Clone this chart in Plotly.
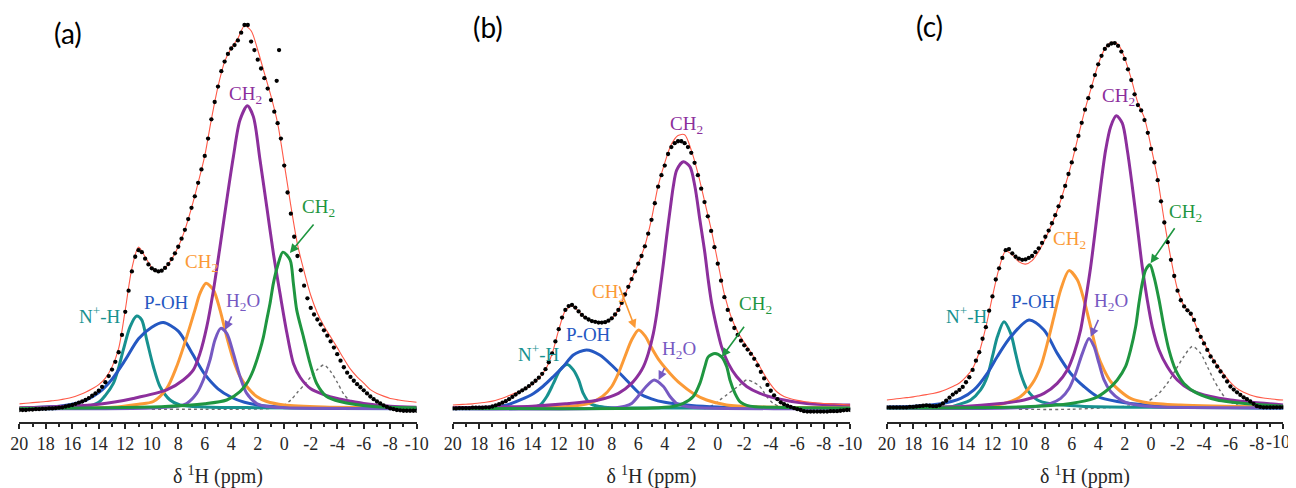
import numpy as np
import plotly.graph_objects as go

# ---------------- shared x grids (ppm) ----------------
PPM_DOTS = np.arange(20, -10.001, -0.25)   # experimental points
PPM_FIT = np.arange(20, -10.001, -0.5)     # fitted envelope

TICK_VALS = [20, 18, 16, 14, 12, 10, 8, 6, 4, 2, 0, -2, -4, -6, -8, -10]
TICK_TEXT = ["20", "18", "16", "14", "12", "10", "8", "6", "4", "2", "0",
             "-2", "-4", "-6", "-8", "-10"]
MINOR_VALS = [19, 17, 15, 13, 11, 9, 7, 5, 3, 1, -1, -3, -5, -7, -9]

# ---------------- panel (a) ----------------
A_DOTS = [0.0, 0.0, 0.0, 0.1, 0.1, 0.2, 0.2, 0.3, 0.3, 0.4, 0.4, 0.5, 0.6, 0.7, 0.9, 1.1,
          1.3, 1.6, 1.9, 2.2, 2.6, 3.1, 3.7, 4.3, 5.0, 6.0, 7.2, 8.8, 10.5, 12.5, 15.0, 19.5,
          25.5, 31.0, 36.0, 39.8, 41.5, 41.0, 39.3, 37.8, 36.8, 36.3, 36.0, 36.2, 36.9, 37.9,
          39.2, 40.7, 42.4, 44.5, 46.8, 49.6, 52.5, 55.5, 59.0, 62.5, 66.0, 70.5, 75.5, 80.0,
          84.0, 88.0, 90.5, 92.5, 93.9, 94.8, 96.0, 98.0, 100.0, 100.0, 95.7, 93.5, 91.0,
          88.7, 86.2, 83.5, 80.5, 77.5, 74.5, 70.5, 63.5, 56.5, 51.0, 45.0, 40.0, 36.3, 32.3,
          29.0, 26.5, 24.8, 23.5, 22.2, 20.7, 19.3, 17.8, 16.2, 14.5, 12.8, 11.1, 9.7, 8.6,
          7.6, 6.7, 5.9, 5.1, 4.3, 3.5, 2.8, 2.2, 1.7, 1.2, 0.8, 0.4, 0.2, 0.0, -0.1, -0.2,
          -0.2, -0.2, -0.2, -0.2]
A_OUTLIER_X = [0.57, 0.39]
A_OUTLIER_Y = [85.5, 93.5]
A_FIT = [1.6, 1.75, 1.9, 2.05, 2.2, 2.4, 2.6, 2.9, 3.3, 3.9, 4.6, 5.5, 6.6, 8.3, 11.2, 16.0,
         26.0, 36.8, 42.3, 39.8, 37.0, 36.0, 36.9, 39.2, 42.4, 46.8, 52.5, 59.0, 66.0, 75.5,
         84.0, 90.5, 94.0, 96.5, 99.8, 98.5, 93.5, 87.5, 81.5, 74.5, 64.0, 53.0, 43.0, 36.0,
         29.8, 25.2, 21.8, 19.0, 16.2, 13.3, 10.6, 8.6, 7.0, 5.3, 4.3, 3.6, 3.0, 2.7, 2.4,
         2.2, 2.0]
A_NH_X = [20, 17, 15, 14, 13.5, 12.9, 12.5, 12.15, 11.64, 11.14, 10.76, 10.38, 9.88, 9.38, 8.62, 7.87, 6, 2, -3, -10]
A_NH_Y = [0.3, 0.4, 0.8, 2.0, 3.8, 6.9, 11.0, 15.6, 21.6, 24.4, 23.4, 18.2, 11.3, 6.1, 2.6, 1.3, 0.8, 0.6, 0.5, 0.4]
A_POH_X = [20, 17, 16, 15, 14, 13, 12, 11, 10, 9.13, 8, 7, 6, 5, 4, 3, 2, 0, -4, -10]
A_POH_Y = [0.6, 1.0, 1.5, 2.5, 4.5, 8.0, 13.0, 18.5, 21.5, 22.7, 20.5, 15.0, 9.3, 5.5, 3.3, 2.0, 1.3, 0.7, 0.4, 0.3]
A_CH2O_X = [20, 13, 11, 9.88, 8.87, 8.12, 7.36, 6.74, 6.36, 5.9, 5.35, 4.85, 4.34, 3.84, 3.34, 2.83, 2.08, 1.32, 0, -3, -10]
A_CH2O_Y = [0.5, 0.7, 1.5, 2.2, 5.6, 11.3, 19.0, 26.0, 30.3, 32.9, 31.2, 26.0, 19.0, 13.0, 8.7, 6.1, 3.5, 2.2, 1.3, 0.8, 0.6]
A_H2O_X = [20, 10, 8, 7.36, 6.61, 6.11, 5.6, 5.23, 4.8, 4.34, 3.84, 3.34, 2.83, 2.08, 1.32, 0, -10]
A_H2O_Y = [0.3, 0.5, 1.0, 1.7, 4.3, 7.8, 13.0, 18.2, 21.2, 19.9, 14.7, 8.7, 4.3, 1.7, 0.9, 0.6, 0.4]
A_CH2P_X = [20, 14, 11.4, 8.87, 7.62, 6.86, 6.36, 5.85, 5.35, 4.85, 4.34, 3.84, 3.34, 2.78, 2.33, 1.83, 1.32, 0.82, 0.32, -0.2, -0.7, -1.2, -2, -3, -4, -5, -6, -8, -10]
A_CH2P_Y = [0.5, 1.5, 3.0, 5.2, 7.8, 10.4, 14.7, 21.6, 31.0, 42.4, 54.5, 65.8, 75.3, 79.0, 76.2, 65.0, 52.8, 40.7, 30.3, 20.0, 12.0, 8.5, 5.5, 4.0, 3.0, 2.3, 1.7, 1.0, 0.7]
A_CH2G_X = [20, 9, 6, 4.34, 3.34, 2.83, 2.33, 1.83, 1.57, 1.32, 1.07, 0.82, 0.52, 0.1, -0.44, -0.69, -0.94, -1.45, -1.95, -2.45, -3.2, -4.2, -6.7, -10]
A_CH2G_Y = [0.4, 0.9, 1.6, 2.6, 4.8, 6.9, 10.4, 15.6, 19.0, 23.4, 27.7, 32.9, 37.2, 41.0, 39.0, 32.9, 26.0, 19.0, 12.1, 6.9, 3.5, 2.2, 0.9, 0.6]
A_DOT_X = [10, 6, 1, 0.5, 0, -0.5, -1, -1.5, -2, -2.5, -3, -3.5, -4, -4.5, -5, -5.5, -6, -7]
A_DOT_Y = [0.2, 0.2, 0.4, 0.8, 1.3, 2.6, 4.6, 6.5, 8.6, 10.5, 11.7, 10.0, 7.2, 4.1, 2.2, 1.2, 0.7, 0.3]

# ---------------- panel (b) ----------------
B_DOTS = [0.4, 0.4, 0.5, 0.5, 0.5, 0.5, 0.6, 0.6, 0.6, 0.6, 0.7, 0.7, 0.9, 1.2, 1.5, 1.9,
          2.3, 2.8, 3.4, 4.0, 4.6, 5.1, 5.6, 6.2, 6.9, 7.6, 8.4, 9.4, 10.6, 12.4, 14.7, 17.8,
          21.0, 24.0, 26.0, 27.0, 27.3, 26.6, 25.6, 24.7, 24.0, 23.5, 23.1, 22.9, 22.7, 22.7,
          22.8, 23.2, 23.8, 24.8, 26.0, 27.8, 30.0, 32.0, 34.0, 36.0, 38.0, 40.0, 42.5, 45.8,
          49.4, 53.7, 58.0, 61.0, 63.5, 66.5, 68.3, 69.3, 69.8, 69.8, 69.3, 68.3, 66.8, 64.2,
          61.0, 57.5, 54.0, 50.3, 46.5, 42.3, 38.0, 33.6, 29.3, 26.0, 23.5, 21.3, 19.5, 18.0,
          16.8, 15.7, 14.6, 13.3, 11.6, 9.9, 8.2, 6.5, 5.0, 3.8, 2.8, 2.0, 1.5, 1.1, 0.8, 0.5,
          0.2, 0.0, -0.3, -0.4, -0.4, -0.4, -0.4, -0.4, -0.4, -0.4, -0.3, -0.3, -0.3, -0.2,
          -0.1, 0.0, 0.0]
B_FIT = [1.3, 1.4, 1.5, 1.6, 1.8, 2.0, 2.3, 2.8, 3.4, 4.1, 4.8, 5.6, 6.7, 8.2, 10.5, 14.6,
         20.8, 25.8, 27.0, 25.6, 24.0, 23.1, 22.7, 22.8, 23.8, 26.0, 30.0, 34.0, 38.0, 42.7,
         49.6, 58.2, 64.2, 69.0, 71.3, 71.5, 67.5, 61.5, 54.3, 47.0, 38.5, 30.0, 24.3, 20.3,
         17.5, 15.0, 12.3, 9.3, 6.6, 4.6, 3.5, 2.9, 2.5, 2.2, 2.0, 1.8, 1.7, 1.6, 1.5, 1.4, 1.3]
B_NH_X = [20, 15, 14, 13.4, 12.9, 12.4, 11.9, 11.35, 10.9, 10.5, 10.15, 9.65, 8.9, 8, 4, -10]
B_NH_Y = [0.3, 0.4, 0.6, 1.3, 3.5, 6.9, 10.4, 11.8, 10.4, 7.8, 4.3, 1.7, 0.9, 0.6, 0.5, 0.4]
B_POH_X = [20, 17.2, 15.9, 14.9, 13.9, 13.2, 12.4, 11.65, 10.9, 9.9, 8.9, 7.9, 6.9, 5.9, 5, 4, 2, 0, -4, -10]
B_POH_Y = [0.5, 0.7, 1.3, 2.6, 4.3, 6.1, 8.7, 11.3, 14.3, 15.6, 14.3, 11.3, 7.8, 4.3, 2.9, 2.0, 1.2, 0.8, 0.5, 0.4]
B_CH2O_X = [20, 11, 9.7, 8.7, 8, 7.5, 7, 6.5, 5.97, 5.5, 5, 4.4, 3.6, 2.85, 1.85, 0.84, -0.67, -3, -10]
B_CH2O_Y = [0.5, 1.0, 1.7, 3.5, 6.1, 9.5, 13.9, 18.2, 20.8, 19.3, 16.2, 12.8, 9.5, 6.9, 4.3, 2.6, 1.3, 0.8, 0.6]
B_H2O_X = [20, 8, 7, 6.5, 5.9, 5.4, 4.8, 4.1, 3.6, 3.1, 2.35, 1, -10]
B_H2O_Y = [0.3, 0.5, 1.0, 1.7, 4.0, 6.1, 7.8, 6.1, 3.5, 1.7, 0.9, 0.5, 0.4]
B_CH2P_X = [20, 14, 11.5, 9, 7.5, 6.5, 5.9, 5.6, 5.24, 4.86, 4.6, 4.36, 4.1, 3.86, 3.6, 3.36, 3.1, 2.6, 2.1, 1.72, 1.35, 0.97, 0.72, 0.46, 0.09, -0.29, -0.79, -1.42, -2.18, -3.18, -4.7, -6.7, -10]
B_CH2P_Y = [0.6, 1.0, 1.6, 2.6, 4.3, 6.9, 9.5, 11.3, 14.7, 19.9, 25.1, 31.2, 38.1, 45.0, 51.9, 58.0, 62.3, 64.5, 63.2, 58.0, 49.4, 40.7, 33.8, 27.7, 21.6, 16.4, 12.1, 8.7, 6.1, 4.3, 2.8, 1.7, 1.3]
B_CH2G_X = [20, 5, 3.4, 2.6, 1.85, 1.35, 0.97, 0.72, 0.21, -0.29, -0.67, -0.92, -1.3, -1.67, -2.43, -4.2, -10]
B_CH2G_Y = [0.4, 0.5, 0.9, 1.7, 3.5, 6.9, 11.3, 13.8, 14.7, 13.8, 11.3, 7.8, 4.3, 2.2, 1.0, 0.7, 0.5]
B_DOT_X = [1, 0.34, -0.16, -0.7, -1.17, -1.7, -2.18, -2.7, -3.18, -3.69, -4.18, -4.7, -5.2]
B_DOT_Y = [0.3, 1.3, 2.6, 4.0, 5.2, 6.6, 7.8, 7.2, 6.1, 3.5, 1.7, 0.8, 0.3]

# ---------------- panel (c) ----------------
C_DOTS = [0.7, 0.7, 0.7, 0.7, 0.7, 0.7, 0.7, 0.8, 0.8, 0.9, 1.0, 1.1, 1.2, 1.1, 1.0, 1.0,
          1.2, 1.7, 2.4, 3.2, 4.0, 4.6, 5.2, 6.0, 7.2, 8.5, 10.4, 12.8, 15.0, 18.5, 21.5, 25.8,
          29.5, 33.9, 36.8, 39.5, 41.5, 41.8, 40.7, 39.8, 39.3, 39.0, 39.1, 39.5, 40.0, 41.0,
          42.0, 43.4, 45.0, 46.6, 48.5, 50.6, 52.9, 55.3, 58.2, 61.3, 64.3, 67.7, 71.2, 74.6,
          78.0, 81.0, 84.0, 87.0, 89.8, 92.0, 93.8, 94.7, 95.2, 95.3, 94.6, 93.1, 91.2, 88.5,
          85.7, 82.0, 79.2, 77.8, 75.3, 72.0, 67.8, 64.3, 59.7, 54.2, 48.7, 43.6, 39.0, 34.8,
          31.0, 28.5, 26.9, 25.9, 25.0, 23.4, 20.8, 19.0, 17.3, 15.6, 13.9, 12.6, 11.3, 10.0,
          8.7, 7.4, 6.1, 5.3, 4.6, 3.9, 3.3, 2.8, 2.2, 1.6, 1.0, 0.8, 0.7, 0.7, 0.7, 0.7, 0.7,
          0.7, 0.7]
C_FIT = [2.6, 2.8, 3.0, 3.2, 3.4, 3.7, 4.0, 4.3, 4.7, 5.3, 6.1, 7.0, 8.6, 10.8, 15.0, 21.5,
         29.5, 36.8, 41.3, 40.3, 38.5, 37.9, 38.8, 41.2, 44.5, 48.3, 52.8, 58.2, 64.3, 71.2,
         78.0, 84.0, 89.8, 93.8, 95.5, 95.0, 91.4, 86.0, 79.8, 75.8, 68.3, 60.0, 49.0, 39.3,
         31.3, 27.0, 25.0, 21.0, 17.5, 14.2, 11.6, 9.3, 7.2, 5.6, 4.6, 3.9, 3.4, 3.1, 2.9,
         2.7, 2.6]
C_NH_X = [20, 15, 14.65, 13.65, 12.9, 12.39, 12.0, 11.63, 11.13, 10.62, 10.25, 9.87, 9.36, 8.6, 7.6, 5.3, 0, -10]
C_NH_Y = [0.4, 0.9, 1.3, 2.6, 5.2, 8.7, 13.9, 19.0, 22.9, 19.9, 14.7, 9.5, 5.2, 2.6, 1.6, 1.0, 0.7, 0.5]
C_POH_X = [20, 17.9, 15.9, 14.4, 13.4, 12.39, 11.63, 10.62, 9.24, 8.1, 7.1, 6.08, 5.08, 4.07, 2.56, 0.29, -5, -10]
C_POH_Y = [0.8, 1.0, 1.6, 3.0, 5.2, 9.5, 13.9, 19.0, 23.4, 20.8, 14.7, 9.5, 6.1, 3.5, 2.2, 1.3, 0.7, 0.5]
C_CH2O_X = [20, 12.9, 11.13, 9.87, 8.98, 8.35, 7.85, 7.35, 6.84, 6.21, 5.58, 5.08, 4.57, 4.07, 3.56, 3.06, 2.3, 1.55, 0.29, -2.23, -10]
C_CH2O_Y = [0.6, 1.0, 1.7, 3.5, 6.9, 11.3, 17.3, 24.2, 31.2, 36.2, 33.8, 28.6, 21.6, 14.7, 10.4, 7.4, 4.8, 3.0, 1.9, 1.3, 0.7]
C_H2O_X = [20, 9, 7.6, 6.84, 6.21, 5.71, 5.2, 4.7, 4.32, 3.94, 3.56, 3.06, 2.3, 1.55, 0, -10]
C_H2O_Y = [0.4, 0.8, 1.7, 3.0, 5.6, 9.5, 14.7, 18.6, 16.5, 12.1, 7.8, 4.8, 2.6, 1.6, 0.9, 0.6]
C_CH2P_X = [20, 14.2, 11.6, 9.6, 8.1, 7.1, 6.34, 5.83, 5.33, 4.95, 4.57, 4.19, 3.82, 3.44, 3.06, 2.63, 2.18, 1.8, 1.42, 1.04, 0.67, 0.29, -0.09, -0.6, -1.22, -1.98, -2.99, -4.5, -6, -10]
C_CH2P_Y = [0.6, 0.9, 1.6, 2.6, 4.3, 6.9, 10.4, 14.7, 20.8, 28.6, 37.2, 47.6, 58.0, 67.5, 73.6, 76.4, 74.5, 67.5, 58.0, 47.6, 37.2, 28.6, 21.6, 15.6, 11.3, 7.8, 5.2, 3.5, 2.6, 1.3]
C_CH2G_X = [20, 9.1, 6.08, 4.32, 3.31, 2.56, 1.93, 1.55, 1.17, 0.92, 0.67, 0.41, 0.09, -0.22, -0.6, -0.97, -1.35, -1.85, -2.48, -3.5, -5, -7.3, -10]
C_CH2G_Y = [0.5, 0.9, 1.7, 3.0, 5.2, 7.8, 11.3, 15.6, 21.6, 27.7, 32.9, 36.4, 37.7, 34.6, 28.6, 21.6, 15.6, 10.4, 6.9, 4.3, 2.6, 1.6, 1.0]
C_DOT_X = [10, 6, 1.04, 0.29, -0.47, -1.22, -1.85, -2.48, -3.12, -3.75, -4.25, -4.75, -5.26, -5.76, -6.5, -7]
C_DOT_Y = [0.2, 0.2, 1.3, 2.2, 3.9, 6.9, 10.4, 13.9, 16.5, 14.7, 11.3, 7.8, 4.8, 2.6, 1.3, 0.6]

# ---------------- styles ----------------
COL_NH = "#17918f"
COL_POH = "#2558c2"
COL_CH2O = "#fb9a36"
COL_H2O = "#7659c2"
COL_CH2P = "#8c2f9c"
COL_CH2G = "#1f9640"
COL_FIT = "#ff5a48"
COL_DOTTED = "#6e6e6e"
AX_COL = "#262626"
SERIF = "Liberation Serif"

# page body has an 8px margin -> figure is offset by 8px
OFF = 8
FIG_W, FIG_H = 1296 - OFF, 488 - OFF
PLOT_TOP, PLOT_BOT = 15 - OFF, 422 - OFF
PLOT_H = PLOT_BOT - PLOT_TOP
LAST_LABEL_CENTER = 1278   # page x of the last tick label of panel (c), kept in view

panels = [
    dict(ax="", dots=A_DOTS, fit=A_FIT, out=(A_OUTLIER_X, A_OUTLIER_Y),
         comps=[(A_DOT_X, A_DOT_Y, COL_DOTTED, "dot"), (A_NH_X, A_NH_Y, COL_NH, None),
                (A_POH_X, A_POH_Y, COL_POH, None), (A_CH2O_X, A_CH2O_Y, COL_CH2O, None),
                (A_H2O_X, A_H2O_Y, COL_H2O, None), (A_CH2P_X, A_CH2P_Y, COL_CH2P, None),
                (A_CH2G_X, A_CH2G_Y, COL_CH2G, None)]),
    dict(ax="2", dots=B_DOTS, fit=B_FIT, out=None,
         comps=[(B_DOT_X, B_DOT_Y, COL_DOTTED, "dot"), (B_NH_X, B_NH_Y, COL_NH, None),
                (B_POH_X, B_POH_Y, COL_POH, None), (B_CH2O_X, B_CH2O_Y, COL_CH2O, None),
                (B_H2O_X, B_H2O_Y, COL_H2O, None), (B_CH2P_X, B_CH2P_Y, COL_CH2P, None),
                (B_CH2G_X, B_CH2G_Y, COL_CH2G, None)]),
    dict(ax="3", dots=C_DOTS, fit=C_FIT, out=None,
         comps=[(C_DOT_X, C_DOT_Y, COL_DOTTED, "dot"), (C_NH_X, C_NH_Y, COL_NH, None),
                (C_POH_X, C_POH_Y, COL_POH, None), (C_CH2O_X, C_CH2O_Y, COL_CH2O, None),
                (C_H2O_X, C_H2O_Y, COL_H2O, None), (C_CH2P_X, C_CH2P_Y, COL_CH2P, None),
                (C_CH2G_X, C_CH2G_Y, COL_CH2G, None)]),
]

fig = go.Figure()
for p in panels:
    xa, ya = "x" + p["ax"], "y" + p["ax"]
    for cx, cy, col, dash in p["comps"]:
        if dash == "dot":
            fig.add_trace(go.Scatter(x=cx, y=cy, mode="lines", xaxis=xa, yaxis=ya,
                                     line=dict(color=col, width=1.4, dash="dot",
                                               shape="spline", smoothing=0.8)))
        else:
            fig.add_trace(go.Scatter(x=cx, y=cy, mode="lines", xaxis=xa, yaxis=ya,
                                     line=dict(color=col, width=3,
                                               shape="spline", smoothing=0.8)))
    fig.add_trace(go.Scatter(x=PPM_FIT, y=p["fit"], mode="lines", xaxis=xa, yaxis=ya,
                             line=dict(color=COL_FIT, width=1.1, shape="spline", smoothing=0.8)))
    fig.add_trace(go.Scatter(x=PPM_DOTS, y=p["dots"], mode="markers", xaxis=xa, yaxis=ya,
                             marker=dict(color="black", size=4.3)))
    if p["out"]:
        fig.add_trace(go.Scatter(x=p["out"][0], y=p["out"][1], mode="markers",
                                 xaxis=xa, yaxis=ya, marker=dict(color="black", size=4.3)))

# ---------------- axes ----------------
DOM_PX = [(19.3, 416.7), (452.7, 850.3), (886.7, 1283.3)]
layout_axes = {}
for i, (a, b) in enumerate(DOM_PX):
    suf = "" if i == 0 else str(i + 1)
    ttext = list(TICK_TEXT)
    if i == 2:
        ttext[-1] = ""   # last label of panel (c) drawn as an annotation (kept in view)
    layout_axes["xaxis" + suf] = dict(
        domain=[(a - OFF) / FIG_W, (b - OFF) / FIG_W], range=[20, -10], anchor="y" + suf,
        tickmode="array", tickvals=TICK_VALS, ticktext=ttext,
        ticks="outside", ticklen=5, tickwidth=1.6, tickcolor=AX_COL,
        showline=True, linecolor=AX_COL, linewidth=1.6,
        showgrid=False, zeroline=False, automargin=False, ticklabeloverflow="allow",
        tickfont=dict(family=SERIF, size=18, color=AX_COL),
        minor=dict(tickmode="array", tickvals=MINOR_VALS, ticks="outside",
                   ticklen=3, tickwidth=1.6, tickcolor=AX_COL, showgrid=False),
        title=dict(text="δ <sup>1</sup>H (ppm)", standoff=16,
                   font=dict(family=SERIF, size=20, color=AX_COL)),
    )
    layout_axes["yaxis" + suf] = dict(domain=[0, 1], range=[-3.12, 102.6], visible=False,
                                      anchor="x" + suf, fixedrange=True)

fig.update_layout(width=FIG_W, height=FIG_H,
                  margin=dict(l=0, r=0, t=PLOT_TOP, b=FIG_H - PLOT_BOT),
                  paper_bgcolor="white", plot_bgcolor="white", showlegend=False,
                  **layout_axes)

# ---------------- labels ----------------
LABELS = [
    # (axis suffix, text, x, y, color)
    ("", "CH<sub>2</sub>", 2.96, 81.8, COL_CH2P),
    ("", "CH<sub>2</sub>", -2.56, 52.5, COL_CH2G),
    ("", "CH<sub>2</sub>", 6.21, 38.2, COL_CH2O),
    ("", "H<sub>2</sub>O", 3.1, 28.0, COL_H2O),
    ("", "P-OH", 8.86, 28.0, COL_POH),
    ("", "N<sup>+</sup>-H", 13.9, 24.7, COL_NH),
    ("2", "CH<sub>2</sub>", 2.33, 74.0, COL_CH2P),
    ("2", "CH<sub>2</sub>", 8.23, 30.3, COL_CH2O),
    ("2", "CH<sub>2</sub>", -2.83, 27.3, COL_CH2G),
    ("2", "H<sub>2</sub>O", 2.95, 15.6, COL_H2O),
    ("2", "P-OH", 9.74, 19.5, COL_POH),
    ("2", "N<sup>+</sup>-H", 13.5, 14.7, COL_NH),
    ("3", "CH<sub>2</sub>", 2.43, 81.4, COL_CH2P),
    ("3", "CH<sub>2</sub>", -2.61, 51.1, COL_CH2G),
    ("3", "CH<sub>2</sub>", 6.21, 44.2, COL_CH2O),
    ("3", "H<sub>2</sub>O", 3.06, 28.1, COL_H2O),
    ("3", "P-OH", 8.86, 28.1, COL_POH),
    ("3", "N<sup>+</sup>-H", 13.9, 24.7, COL_NH),
]
ARROWS = [
    # (axis suffix, tail x, tail y, head x, head y, color)
    ("", -2.31, 48.6, -0.43, 40.8, COL_CH2G),
    ("", 3.92, 24.7, 4.47, 20.8, COL_H2O),
    ("2", 7.48, 32.5, 6.22, 21.2, COL_CH2O),
    ("2", -2.07, 22.0, -0.31, 13.8, COL_CH2G),
    ("2", 3.96, 11.3, 4.46, 7.8, COL_H2O),
    ("3", -1.86, 47.6, 0.04, 38.1, COL_CH2G),
    ("3", 3.94, 23.8, 4.57, 19.0, COL_H2O),
]
# panel tags: (text, x px, y px) in reference picture coordinates
PANEL_TAGS = [("(a)", 68, 33), ("(b)", 488, 27), ("(c)", 929, 26)]

annotations = []
for suf, txt, x, y, col in LABELS:
    annotations.append(dict(xref="x" + suf, yref="y" + suf, x=x, y=y, text=txt,
                            xanchor="center", yanchor="middle",
                            showarrow=False, font=dict(family=SERIF, size=19, color=col)))
for suf, tx, ty, hx, hy, col in ARROWS:
    annotations.append(dict(xref="x" + suf, yref="y" + suf, axref="x" + suf, ayref="y" + suf,
                            x=hx, y=hy, ax=tx, ay=ty, text="", showarrow=True,
                            arrowhead=2, arrowsize=1.1, arrowwidth=1.6, arrowcolor=col))
for txt, px, py in PANEL_TAGS:
    annotations.append(dict(xref="paper", yref="paper", x=(px - OFF) / FIG_W,
                            y=(PLOT_BOT - (py - OFF)) / PLOT_H, text=txt, showarrow=False,
                            xanchor="center", yanchor="middle",
                            font=dict(family="Lato", size=28, color="black")))
# last tick label of panel (c)
annotations.append(dict(xref="paper", yref="paper", x=(LAST_LABEL_CENTER - OFF) / FIG_W,
                        y=(PLOT_BOT - (442 - OFF)) / PLOT_H, text=TICK_TEXT[-1],
                        showarrow=False, xanchor="center", yanchor="middle",
                        font=dict(family=SERIF, size=18, color=AX_COL)))
fig.update_layout(annotations=annotations)

fig.write_html("out.html")
